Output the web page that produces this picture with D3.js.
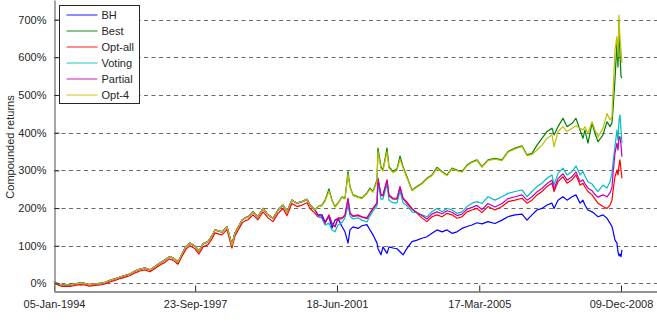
<!DOCTYPE html>
<html>
<head>
<meta charset="utf-8">
<script src="https://cdn.jsdelivr.net/npm/d3@7"></script>
<style>
  body { margin: 0; background: #fff; }
  svg { display: block; font-family: "Liberation Sans", Arial, sans-serif; }
</style>
</head>
<body>
<svg id="chart"></svg>
<script>
// series names, drawn in this order (last one on top)
const seriesNames = ['BH', 'Best', 'Opt-all', 'Voting', 'Partial', 'Opt-4']
const seriesColors = ['#0000ff', '#008000', '#ff0000', '#00bfbf', '#bf00bf', '#bfbf00']

const xTickLabels = ['05-Jan-1994', '23-Sep-1997', '18-Jun-2001', '17-Mar-2005', '09-Dec-2008']
const yTicks = [0, 100, 200, 300, 400, 500, 600, 700]

// days after 05-Jan-1994 of every sample
const days = [0, 38, 77, 115, 154, 202, 250, 298, 337, 394,
    442, 490, 538, 587, 635, 683, 731, 779, 827, 875,
    923, 971, 1019, 1067, 1106, 1144, 1192, 1231, 1269, 1308,
    1356, 1394, 1433, 1481, 1519, 1548, 1586, 1615, 1663, 1711,
    1740, 1779, 1808, 1836, 1865, 1913, 1961, 2010, 2058, 2106,
    2154, 2202, 2240, 2288, 2336, 2385, 2433, 2461, 2510,
    2538, 2577, 2606, 2644, 2673, 2702, 2731, 2769, 2798, 2827,
    2846, 2875, 2923, 2961, 3009, 3038, 3067, 3106, 3115, 3144,
    3163, 3202, 3221, 3259, 3298, 3327, 3356, 3394, 3442, 3490,
    3538, 3586, 3634, 3683, 3731, 3779, 3827, 3875, 3923, 3971,
    4019, 4067, 4115, 4173, 4240, 4308, 4365, 4433, 4500, 4548,
    4596, 4644, 4692, 4740, 4788, 4808, 4846, 4894, 4933, 4981,
    5019, 5058, 5086, 5105, 5134, 5173, 5202, 5231, 5279, 5317,
    5346, 5365, 5375, 5394, 5413, 5423, 5433, 5442, 5452, 5461]

// compounded returns in %, up to mid-2000 most strategies track each other
const earlyShared = [5, -1, -4, -4, -4, -1, 1, 0, -3, -1,
    0, 3, 8, 12, 17, 21, 25, 33, 38, 41,
    36, 45, 54, 62, 71, 68, 57, 78, 98, 107,
    99, 86, 105, 111, 126, 142, 139, 137, 151, 102,
    134, 153, 168, 174, 177, 190, 177, 199, 182, 173,
    195, 208, 190, 221, 213, 217, 223, 208, 195]

const earlyOptAll = [3, -4, -8, -8, -8, -5, -3, -4, -7, -5,
    -4, -1, 4, 8, 13, 17, 21, 28, 33, 36,
    31, 40, 49, 56, 65, 62, 51, 72, 91, 100,
    92, 78, 97, 103, 118, 134, 131, 129, 143, 94,
    126, 145, 160, 166, 169, 182, 169, 190, 174, 164,
    186, 199, 180, 212, 204, 208, 214, 199, 186]

const bh = earlyShared.concat([182, 182, 164, 177, 147, 168, 172, 151, 137, 107,
    142, 150, 146, 153, 156, 142, 129, 107, 93, 76,
    97, 80, 97, 94, 92, 84, 76, 93, 111, 115,
    120, 124, 133, 142, 137, 142, 133, 137, 146, 151,
    155, 161, 158, 164, 159, 168, 177, 182, 184, 168,
    182, 195, 199, 208, 213, 199, 221, 230, 221, 230,
    235, 213, 221, 208, 195, 190, 184, 177, 182, 173,
    160, 151, 140, 115, 107, 84, 73, 78, 71, 89])

const best = earlyShared.concat([204, 208, 221, 251, 221, 204, 214, 230, 226, 297,
    257, 235, 230, 227, 240, 253, 244, 275, 359, 310,
    301, 359, 310, 297, 304, 338, 310, 283, 248, 257,
    266, 279, 288, 308, 297, 288, 306, 301, 297, 314,
    323, 328, 310, 328, 332, 328, 350, 359, 365, 341,
    345, 367, 385, 403, 412, 394, 416, 438, 416, 425,
    438, 407, 385, 407, 372, 425, 398, 376, 394, 429,
    416, 426, 460, 540, 638, 574, 699, 606, 549, 545])

const optAll = earlyOptAll.concat([177, 174, 160, 182, 160, 151, 174, 174, 182, 226,
    187, 179, 182, 177, 174, 187, 200, 214, 279, 235,
    235, 275, 235, 226, 226, 257, 227, 216, 199, 186,
    174, 164, 177, 182, 177, 186, 182, 173, 177, 190,
    195, 199, 188, 204, 195, 204, 217, 221, 226, 213,
    221, 235, 244, 257, 266, 244, 270, 283, 266, 275,
    288, 261, 266, 256, 244, 235, 224, 213, 204, 199,
    208, 221, 245, 283, 301, 288, 314, 328, 301, 279])

const voting = earlyShared.concat([180, 172, 155, 160, 142, 137, 155, 162, 174, 208,
    179, 171, 174, 168, 163, 179, 192, 206, 269, 224,
    224, 264, 221, 214, 214, 245, 214, 206, 190, 187,
    182, 177, 190, 199, 190, 199, 195, 186, 190, 204,
    213, 217, 212, 230, 221, 230, 239, 244, 248, 230,
    244, 257, 266, 279, 288, 261, 292, 306, 288, 297,
    312, 288, 297, 285, 270, 264, 253, 244, 261, 253,
    270, 292, 320, 363, 407, 380, 434, 447, 407, 373])

const partial = earlyShared.concat([182, 178, 160, 180, 158, 150, 170, 172, 180, 224,
    186, 178, 180, 176, 172, 186, 198, 212, 278, 234,
    232, 273, 232, 224, 224, 255, 225, 212, 197, 188,
    180, 171, 184, 190, 185, 193, 189, 180, 184, 197,
    202, 207, 196, 212, 203, 212, 225, 230, 235, 221,
    230, 243, 252, 265, 274, 251, 278, 291, 274, 283,
    296, 270, 275, 265, 253, 246, 236, 229, 235, 230,
    240, 255, 290, 346, 372, 354, 389, 389, 367, 336])

const opt4 = earlyShared.concat([204, 206, 218, 245, 219, 202, 212, 228, 224, 290,
    254, 233, 228, 225, 238, 250, 242, 270, 350, 305,
    298, 350, 306, 294, 300, 330, 306, 280, 246, 255,
    264, 277, 286, 305, 295, 286, 304, 299, 295, 312,
    321, 326, 308, 326, 330, 326, 348, 357, 363, 339,
    342, 354, 367, 385, 394, 363, 403, 416, 403, 412,
    418, 412, 407, 416, 398, 429, 407, 389, 412, 451,
    434, 442, 505, 619, 655, 601, 712, 646, 619, 585])

const seriesValues = [bh, best, optAll, voting, partial, opt4]

const width = 657,
    height = 322,
    margin = {left: 54, right: 0, top: 0, bottom: 31}

const svg = d3.select('#chart').attr('width', width).attr('height', height)

const startMs = Date.UTC(1994, 0, 5),
    dayMs = 86400000,
    parseTick = d3.utcParse('%d-%b-%Y')

const x = d3.scaleUtc()
    .domain([new Date(startMs), new Date(startMs + 5798 * dayMs)])
    .range([margin.left, width - margin.right])

const y = d3.scaleLinear()
    .domain([-20, 752])
    .range([height - margin.bottom, margin.top])

// dashed horizontal grid
svg.append('g')
    .selectAll('line')
    .data(yTicks)
    .enter().append('line')
    .attr('x1', margin.left)
    .attr('x2', width - margin.right)
    .attr('y1', d => Math.round(y(d)) + 0.5)
    .attr('y2', d => Math.round(y(d)) + 0.5)
    .attr('stroke', '#444')
    .attr('stroke-width', 0.8)
    .attr('stroke-dasharray', '4,3.5')

// series lines
const line = d3.line()
    .x((d, i) => x(new Date(startMs + days[i] * dayMs)))
    .y(d => y(d))

svg.append('g')
    .selectAll('path')
    .data(seriesValues)
    .enter().append('path')
    .attr('d', d => line(d))
    .attr('fill', 'none')
    .attr('stroke', (d, i) => seriesColors[i])
    .attr('stroke-width', 1.2)
    .attr('stroke-linejoin', 'round')

// axes, MATLAB style ticks pointing inward
const xAxis = svg.append('g')
    .attr('transform', 'translate(0,' + (height - margin.bottom + 0.5) + ')')
    .call(d3.axisBottom(x)
        .tickValues(xTickLabels.map(parseTick))
        .tickFormat(d3.utcFormat('%d-%b-%Y'))
        .tickSizeInner(-6)
        .tickSizeOuter(0)
        .tickPadding(9))
xAxis.select('.domain').attr('stroke', '#262626')
xAxis.selectAll('.tick line').attr('stroke', '#262626')
xAxis.selectAll('text').attr('font-size', 11).attr('fill', '#262626')
    .attr('font-family', '"Liberation Sans", Arial, sans-serif')

const yAxis = svg.append('g')
    .attr('transform', 'translate(' + (margin.left + 0.5) + ',0)')
    .call(d3.axisLeft(y)
        .tickValues(yTicks)
        .tickFormat(d => d + '%')
        .tickSizeInner(-5)
        .tickSizeOuter(0)
        .tickPadding(8))
yAxis.select('.domain').attr('stroke', '#888').attr('stroke-width', 1.5)
yAxis.selectAll('.tick line').attr('stroke', '#262626')
yAxis.selectAll('text').attr('font-size', 11).attr('fill', '#262626')
    .attr('font-family', '"Liberation Sans", Arial, sans-serif')

svg.append('text')
    .attr('transform', 'translate(14,' + 147 + ') rotate(-90)')
    .attr('text-anchor', 'middle')
    .attr('font-size', 11)
    .attr('fill', '#262626')
    .text('Compounded returns')

// legend
const legend = svg.append('g').attr('transform', 'translate(59.5,5.5)')
legend.append('rect')
    .attr('width', 80)
    .attr('height', 98)
    .attr('fill', '#fff')
    .attr('stroke', '#262626')
    .attr('stroke-width', 1)

const item = legend.selectAll('g.item')
    .data(seriesNames)
    .enter().append('g')
    .attr('class', 'item')
    .attr('transform', (d, i) => 'translate(0,' + (9.5 + i * 16) + ')')

item.append('line')
    .attr('x1', 7)
    .attr('x2', 38)
    .attr('stroke', (d, i) => seriesColors[i])
    .attr('stroke-width', 0.9)

item.append('text')
    .attr('x', 42)
    .attr('dy', '0.35em')
    .attr('font-size', 11)
    .attr('fill', '#262626')
    .text(d => d)
</script>
</body>
</html>
